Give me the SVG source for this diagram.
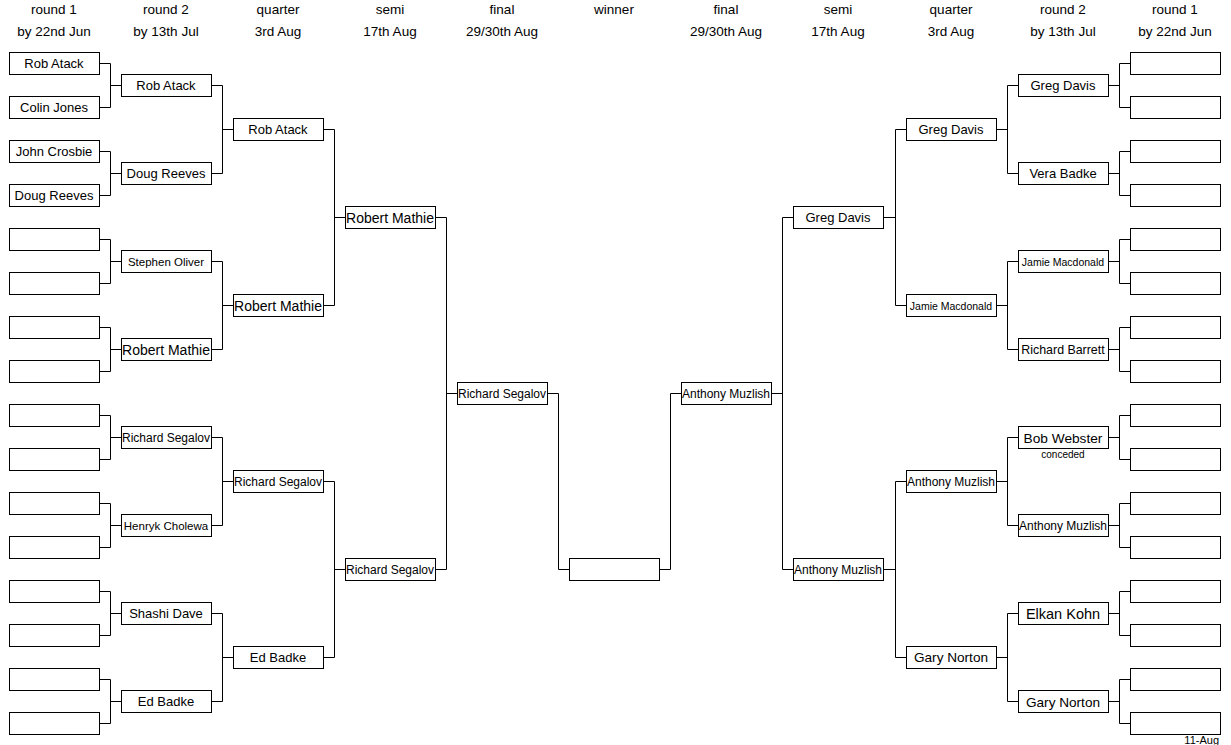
<svg xmlns="http://www.w3.org/2000/svg" width="1231" height="745" viewBox="0 0 1231 745">
<style>
.b{fill:#fff;stroke:#000;stroke-width:1}
.c{fill:none;stroke:#000;stroke-width:1}
text{font-family:"Liberation Sans",Arial,sans-serif;font-size:13px;text-anchor:middle;fill:#000}
.h{font-size:13.5px}
.s12{font-size:12px}
.s11{font-size:11.5px}
.s10{font-size:10.5px}
.s14{font-size:14px}
</style>
<rect width="1231" height="745" fill="#fff"/>
<g id="headers">
<text class="h" x="54" y="14">round 1</text><text class="h" x="54" y="36">by 22nd Jun</text>
<text class="h" x="166" y="14">round 2</text><text class="h" x="166" y="36">by 13th Jul</text>
<text class="h" x="278" y="14">quarter</text><text class="h" x="278" y="36">3rd Aug</text>
<text class="h" x="390" y="14">semi</text><text class="h" x="390" y="36">17th Aug</text>
<text class="h" x="502" y="14">final</text><text class="h" x="502" y="36">29/30th Aug</text>
<text class="h" x="614" y="14">winner</text>
<text class="h" x="726" y="14">final</text><text class="h" x="726" y="36">29/30th Aug</text>
<text class="h" x="838" y="14">semi</text><text class="h" x="838" y="36">17th Aug</text>
<text class="h" x="951" y="14">quarter</text><text class="h" x="951" y="36">3rd Aug</text>
<text class="h" x="1063" y="14">round 2</text><text class="h" x="1063" y="36">by 13th Jul</text>
<text class="h" x="1175" y="14">round 1</text><text class="h" x="1175" y="36">by 22nd Jun</text>
</g>
<g id="connectors">
<path class="c" d="M99.5,63.5H110.5V107.5H99.5M110.5,85.5H121.5"/>
<path class="c" d="M99.5,151.5H110.5V195.5H99.5M110.5,173.5H121.5"/>
<path class="c" d="M99.5,239.5H110.5V283.5H99.5M110.5,261.5H121.5"/>
<path class="c" d="M99.5,327.5H110.5V371.5H99.5M110.5,349.5H121.5"/>
<path class="c" d="M99.5,415.5H110.5V459.5H99.5M110.5,437.5H121.5"/>
<path class="c" d="M99.5,503.5H110.5V547.5H99.5M110.5,525.5H121.5"/>
<path class="c" d="M99.5,591.5H110.5V635.5H99.5M110.5,613.5H121.5"/>
<path class="c" d="M99.5,679.5H110.5V723.5H99.5M110.5,701.5H121.5"/>
<path class="c" d="M211.5,85.5H222.5V173.5H211.5M222.5,129.5H233.5"/>
<path class="c" d="M211.5,261.5H222.5V349.5H211.5M222.5,305.5H233.5"/>
<path class="c" d="M211.5,437.5H222.5V525.5H211.5M222.5,481.5H233.5"/>
<path class="c" d="M211.5,613.5H222.5V701.5H211.5M222.5,657.5H233.5"/>
<path class="c" d="M323.5,129.5H334.5V305.5H323.5M334.5,217.5H345.5"/>
<path class="c" d="M323.5,481.5H334.5V657.5H323.5M334.5,569.5H345.5"/>
<path class="c" d="M435.5,217.5H446.5V569.5H435.5M446.5,393.5H457.5"/>
<path class="c" d="M547.5,393.5H558.5V569.5H569.5"/>
<path class="c" d="M1130.5,63.5H1119.5V107.5H1130.5M1119.5,85.5H1108.5"/>
<path class="c" d="M1130.5,151.5H1119.5V195.5H1130.5M1119.5,173.5H1108.5"/>
<path class="c" d="M1130.5,239.5H1119.5V283.5H1130.5M1119.5,261.5H1108.5"/>
<path class="c" d="M1130.5,327.5H1119.5V371.5H1130.5M1119.5,349.5H1108.5"/>
<path class="c" d="M1130.5,415.5H1119.5V459.5H1130.5M1119.5,437.5H1108.5"/>
<path class="c" d="M1130.5,503.5H1119.5V547.5H1130.5M1119.5,525.5H1108.5"/>
<path class="c" d="M1130.5,591.5H1119.5V635.5H1130.5M1119.5,613.5H1108.5"/>
<path class="c" d="M1130.5,679.5H1119.5V723.5H1130.5M1119.5,701.5H1108.5"/>
<path class="c" d="M1018.5,85.5H1007.5V173.5H1018.5M1007.5,129.5H996.5"/>
<path class="c" d="M1018.5,261.5H1007.5V349.5H1018.5M1007.5,305.5H996.5"/>
<path class="c" d="M1018.5,437.5H1007.5V525.5H1018.5M1007.5,481.5H996.5"/>
<path class="c" d="M1018.5,613.5H1007.5V701.5H1018.5M1007.5,657.5H996.5"/>
<path class="c" d="M906.5,129.5H895.5V305.5H906.5M895.5,217.5H883.5"/>
<path class="c" d="M906.5,481.5H895.5V657.5H906.5M895.5,569.5H883.5"/>
<path class="c" d="M793.5,217.5H782.5V569.5H793.5M782.5,393.5H771.5"/>
<path class="c" d="M681.5,393.5H670.5V569.5H659.5"/>
</g>
<g id="L-r1-1"><rect class="b" x="9.5" y="52.5" width="90" height="22"/><text x="54" y="68">Rob Atack</text></g>
<g id="L-r1-2"><rect class="b" x="9.5" y="96.5" width="90" height="22"/><text x="54" y="112">Colin Jones</text></g>
<g id="L-r1-3"><rect class="b" x="9.5" y="140.5" width="90" height="22"/><text x="54" y="156">John Crosbie</text></g>
<g id="L-r1-4"><rect class="b" x="9.5" y="184.5" width="90" height="22"/><text x="54" y="200">Doug Reeves</text></g>
<g id="L-r1-5"><rect class="b" x="9.5" y="228.5" width="90" height="22"/></g>
<g id="L-r1-6"><rect class="b" x="9.5" y="272.5" width="90" height="22"/></g>
<g id="L-r1-7"><rect class="b" x="9.5" y="316.5" width="90" height="22"/></g>
<g id="L-r1-8"><rect class="b" x="9.5" y="360.5" width="90" height="22"/></g>
<g id="L-r1-9"><rect class="b" x="9.5" y="404.5" width="90" height="22"/></g>
<g id="L-r1-10"><rect class="b" x="9.5" y="448.5" width="90" height="22"/></g>
<g id="L-r1-11"><rect class="b" x="9.5" y="492.5" width="90" height="22"/></g>
<g id="L-r1-12"><rect class="b" x="9.5" y="536.5" width="90" height="22"/></g>
<g id="L-r1-13"><rect class="b" x="9.5" y="580.5" width="90" height="22"/></g>
<g id="L-r1-14"><rect class="b" x="9.5" y="624.5" width="90" height="22"/></g>
<g id="L-r1-15"><rect class="b" x="9.5" y="668.5" width="90" height="22"/></g>
<g id="L-r1-16"><rect class="b" x="9.5" y="712.5" width="90" height="22"/></g>
<g id="L-r2-1"><rect class="b" x="121.5" y="74.5" width="90" height="22"/><text x="166" y="90">Rob Atack</text></g>
<g id="L-r2-2"><rect class="b" x="121.5" y="162.5" width="90" height="22"/><text x="166" y="178">Doug Reeves</text></g>
<g id="L-r2-3"><rect class="b" x="121.5" y="250.5" width="90" height="22"/><text class="s11" x="166" y="266">Stephen Oliver</text></g>
<g id="L-r2-4"><rect class="b" x="121.5" y="338.5" width="90" height="22"/><text class="s14" x="166" y="354.5">Robert Mathie</text></g>
<g id="L-r2-5"><rect class="b" x="121.5" y="426.5" width="90" height="22"/><text class="s12" x="166" y="442">Richard Segalov</text></g>
<g id="L-r2-6"><rect class="b" x="121.5" y="514.5" width="90" height="22"/><text class="s11" x="166" y="530">Henryk Cholewa</text></g>
<g id="L-r2-7"><rect class="b" x="121.5" y="602.5" width="90" height="22"/><text x="166" y="618">Shashi Dave</text></g>
<g id="L-r2-8"><rect class="b" x="121.5" y="690.5" width="90" height="22"/><text x="166" y="706">Ed Badke</text></g>
<g id="L-q-1"><rect class="b" x="233.5" y="118.5" width="90" height="22"/><text x="278" y="134">Rob Atack</text></g>
<g id="L-q-2"><rect class="b" x="233.5" y="294.5" width="90" height="22"/><text class="s14" x="278" y="310.5">Robert Mathie</text></g>
<g id="L-q-3"><rect class="b" x="233.5" y="470.5" width="90" height="22"/><text class="s12" x="278" y="486">Richard Segalov</text></g>
<g id="L-q-4"><rect class="b" x="233.5" y="646.5" width="90" height="22"/><text x="278" y="662">Ed Badke</text></g>
<g id="L-semi-1"><rect class="b" x="345.5" y="206.5" width="90" height="22"/><text class="s14" x="390" y="222.5">Robert Mathie</text></g>
<g id="L-semi-2"><rect class="b" x="345.5" y="558.5" width="90" height="22"/><text class="s12" x="390" y="574">Richard Segalov</text></g>
<g id="L-final"><rect class="b" x="457.5" y="382.5" width="90" height="22"/><text class="s12" x="502" y="398">Richard Segalov</text></g>
<g id="winner"><rect class="b" x="569.5" y="558.5" width="90" height="22"/></g>
<g id="R-final"><rect class="b" x="681.5" y="382.5" width="90" height="22"/><text class="s12" x="726" y="398">Anthony Muzlish</text></g>
<g id="R-semi-1"><rect class="b" x="793.5" y="206.5" width="90" height="22"/><text x="838" y="222">Greg Davis</text></g>
<g id="R-semi-2"><rect class="b" x="793.5" y="558.5" width="90" height="22"/><text class="s12" x="838" y="574">Anthony Muzlish</text></g>
<g id="R-q-1"><rect class="b" x="906.5" y="118.5" width="90" height="22"/><text x="951" y="134">Greg Davis</text></g>
<g id="R-q-2"><rect class="b" x="906.5" y="294.5" width="90" height="22"/><text class="s10" x="951" y="309.5">Jamie Macdonald</text></g>
<g id="R-q-3"><rect class="b" x="906.5" y="470.5" width="90" height="22"/><text class="s12" x="951" y="486">Anthony Muzlish</text></g>
<g id="R-q-4"><rect class="b" x="906.5" y="646.5" width="90" height="22"/><text x="951" y="662" style="font-size:13.6px">Gary Norton</text></g>
<g id="R-r2-1"><rect class="b" x="1018.5" y="74.5" width="90" height="22"/><text x="1063" y="90">Greg Davis</text></g>
<g id="R-r2-2"><rect class="b" x="1018.5" y="162.5" width="90" height="22"/><text x="1063" y="178">Vera Badke</text></g>
<g id="R-r2-3"><rect class="b" x="1018.5" y="250.5" width="90" height="22"/><text class="s10" x="1063" y="265.5">Jamie Macdonald</text></g>
<g id="R-r2-4"><rect class="b" x="1018.5" y="338.5" width="90" height="22"/><text x="1063" y="354" style="font-size:12.4px">Richard Barrett</text></g>
<g id="R-r2-5"><rect class="b" x="1018.5" y="426.5" width="90" height="22"/><text x="1063" y="442.5" style="font-size:13.7px">Bob Webster</text><text x="1063" y="458" style="font-size:10px">conceded</text></g>
<g id="R-r2-6"><rect class="b" x="1018.5" y="514.5" width="90" height="22"/><text class="s12" x="1063" y="530">Anthony Muzlish</text></g>
<g id="R-r2-7"><rect class="b" x="1018.5" y="602.5" width="90" height="22"/><text x="1063" y="618.5" style="font-size:14.5px">Elkan Kohn</text></g>
<g id="R-r2-8"><rect class="b" x="1018.5" y="690.5" width="90" height="22"/><text x="1063" y="706.5" style="font-size:13.6px">Gary Norton</text></g>
<g id="R-r1-1"><rect class="b" x="1130.5" y="52.5" width="90" height="22"/></g>
<g id="R-r1-2"><rect class="b" x="1130.5" y="96.5" width="90" height="22"/></g>
<g id="R-r1-3"><rect class="b" x="1130.5" y="140.5" width="90" height="22"/></g>
<g id="R-r1-4"><rect class="b" x="1130.5" y="184.5" width="90" height="22"/></g>
<g id="R-r1-5"><rect class="b" x="1130.5" y="228.5" width="90" height="22"/></g>
<g id="R-r1-6"><rect class="b" x="1130.5" y="272.5" width="90" height="22"/></g>
<g id="R-r1-7"><rect class="b" x="1130.5" y="316.5" width="90" height="22"/></g>
<g id="R-r1-8"><rect class="b" x="1130.5" y="360.5" width="90" height="22"/></g>
<g id="R-r1-9"><rect class="b" x="1130.5" y="404.5" width="90" height="22"/></g>
<g id="R-r1-10"><rect class="b" x="1130.5" y="448.5" width="90" height="22"/></g>
<g id="R-r1-11"><rect class="b" x="1130.5" y="492.5" width="90" height="22"/></g>
<g id="R-r1-12"><rect class="b" x="1130.5" y="536.5" width="90" height="22"/></g>
<g id="R-r1-13"><rect class="b" x="1130.5" y="580.5" width="90" height="22"/></g>
<g id="R-r1-14"><rect class="b" x="1130.5" y="624.5" width="90" height="22"/></g>
<g id="R-r1-15"><rect class="b" x="1130.5" y="668.5" width="90" height="22"/></g>
<g id="R-r1-16"><rect class="b" x="1130.5" y="712.5" width="90" height="22"/></g>
<g id="date"><text x="1219" y="744" style="font-size:11px;text-anchor:end">11-Aug</text></g>
</svg>
